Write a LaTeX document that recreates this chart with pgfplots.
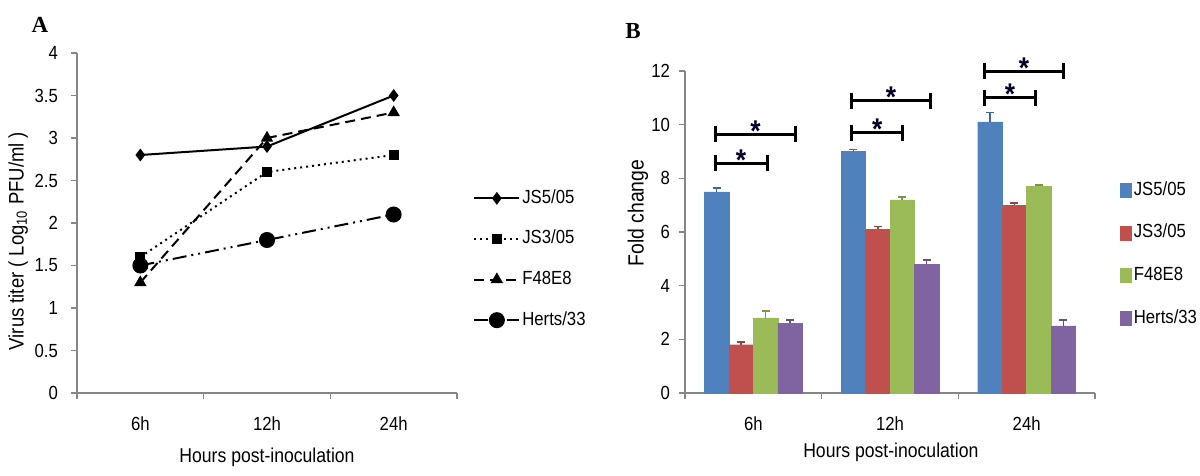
\documentclass[border=0pt]{standalone}
\usepackage{fontspec}
\setmainfont[FakeStretch=0.88]{Liberation Sans}
\newfontfamily\titlefont{Liberation Serif}
\usepackage{pgfplots}
\pgfplotsset{compat=1.18}
\definecolor{cBlue}{HTML}{4F81BD}
\definecolor{cRed}{HTML}{C0504D}
\definecolor{cGreen}{HTML}{9BBB59}
\definecolor{cPurple}{HTML}{8064A2}
\definecolor{axgray}{HTML}{868686}
\tikzset{signif/.style={font=\bfseries\fontsize{15}{15}\selectfont, text=black!85!blue, anchor=base, inner sep=0pt, yshift=-3.5pt}}
\pgfplotsset{
  common/.style={
    scale only axis,
    axis lines=left,
    axis line style={-, draw=axgray, line width=0.8pt},
    tick align=outside, major tick length=3pt, minor tick length=3pt,
    tick style={draw=axgray, line width=0.8pt},
    major x tick style={draw=none},
    xmin=-0.5, xmax=2.5,
    xtick={0,1,2}, xticklabels={6h,12h,24h},
    minor xtick={-0.5,0.5,1.5,2.5},
    /pgf/number format/assume math mode=true,
    tick label style={font=\fontsize{9.5}{11}\selectfont},
    xticklabel style={yshift=-5.5pt},
    label style={font=\fontsize{10}{12}\selectfont},
    clip=false,
  },
  mybar/.style={ybar, bar width=0.179, fill=#1, draw=#1, line width=0.2pt,
    legend image code/.code={\fill[fill=#1] (0pt,-3.5pt) rectangle (5.5pt,3.5pt);}},
  myerr/.style={forget plot, draw=none, mark=none,
    error bars/y dir=plus, error bars/y explicit,
    error bars/error bar style={line width=0.8pt, draw=#1!80!black, solid},
    error bars/error mark options={rotate=90, mark size=2pt, line width=0.8pt, draw=#1!80!black}},
  brk/.style={black, line width=1.5pt, mark=|, mark size=4pt, mark options={solid}, forget plot},
}
\begin{document}
\begin{tikzpicture}
\path[use as bounding box] (0,0) rectangle (600pt,-238pt);
\node[font=\titlefont\bfseries\fontsize{11.5}{12}\selectfont] at (20pt,-12.5pt) {A};
\node[font=\titlefont\bfseries\fontsize{11.5}{12}\selectfont] at (316.5pt,-15.5pt) {B};

\begin{axis}[common,
  at={(38.5pt,-196.5pt)}, anchor=south west, width=190pt, height=170pt,
  ymin=0, ymax=4,
  ytick={0,0.5,1,1.5,2,2.5,3,3.5,4},
  y tick label style={xshift=-3pt},
  xlabel={Hours post-inoculation},
  ylabel={Virus titer ( Log\textsubscript{10} PFU/ml )},
  xlabel style={at={(axis description cs:0.5,-0.188)}, anchor=center},
  ylabel style={at={(axis description cs:-0.155,0.447)}, anchor=center, font=\fontsize{10.5}{12}\selectfont},
  legend image code/.code={\draw[mark repeat=2,mark phase=2,#1] plot coordinates {(0pt,0pt)(11.25pt,0pt)(22.5pt,0pt)};},
  legend style={at={(axis description cs:1.042,0.606)}, anchor=north west, draw=none, fill=none,
    inner sep=0pt, row sep=9.3pt, font=\fontsize{9.5}{11}\selectfont,
    nodes={inner sep=1pt, text height=7pt, text depth=2pt}},
  legend cell align=left,
]
\addplot[black, line width=1pt, mark=diamond*, mark size=2.4pt, mark options={solid}]
  coordinates {(0,2.8) (1,2.9) (2,3.5)};
\addlegendentry{JS5/05}
\addplot[black, line width=1pt, dotted, mark=square*, mark size=2pt, mark options={solid}]
  coordinates {(0,1.6) (1,2.6) (2,2.8)};
\addlegendentry{JS3/05}
\addplot[black, line width=1pt, dash pattern=on 5pt off 3pt, mark=triangle*, mark size=2.6pt, mark options={solid}]
  coordinates {(0,1.3) (1,3.0) (2,3.3)};
\addlegendentry{F48E8}
\addplot[black, line width=1pt, dash pattern=on 7pt off 2.5pt on 1pt off 2.5pt on 1pt off 2.5pt, mark=*, mark size=3.5pt, mark options={solid}]
  coordinates {(0,1.5) (1,1.8) (2,2.1)};
\addlegendentry{Herts/33}
\end{axis}

\begin{axis}[common,
  at={(342.5pt,-196.5pt)}, anchor=south west, width=205pt, height=161pt,
  ymin=0, ymax=12,
  ytick={0,2,4,6,8,10,12},
  y tick label style={xshift=-1pt},
  xlabel={Hours post-inoculation},
  ylabel={Fold change},
  xlabel style={at={(axis description cs:0.502,-0.183)}, anchor=center},
  ylabel style={at={(axis description cs:-0.115,0.559)}, anchor=center, font=\fontsize{11}{12}\selectfont},
  legend style={at={(axis description cs:1.061,0.665)}, anchor=north west, draw=none, fill=none,
    inner sep=0pt, row sep=10.3pt, font=\fontsize{9.5}{11}\selectfont,
    nodes={inner sep=1pt, text height=7pt, text depth=2pt}},
  legend cell align=left,
]
\addplot[mybar=cBlue, bar shift=-0.2685] coordinates {(0,7.5) (1,9.0) (2,10.1)};
\addlegendentry{JS5/05}
\addplot[mybar=cRed, bar shift=-0.0895] coordinates {(0,1.8) (1,6.1) (2,7.0)};
\addlegendentry{JS3/05}
\addplot[mybar=cGreen, bar shift=0.0895] coordinates {(0,2.8) (1,7.2) (2,7.7)};
\addlegendentry{F48E8}
\addplot[mybar=cPurple, bar shift=0.2685] coordinates {(0,2.6) (1,4.8) (2,2.5)};
\addlegendentry{Herts/33}
\addplot[myerr=cBlue] coordinates {(-0.2685,7.5) +- (0,0.15) (0.7315,9.0) +- (0,0.08) (1.7315,10.1) +- (0,0.35)};
\addplot[myerr=cRed] coordinates {(-0.0895,1.8) +- (0,0.1) (0.9105,6.1) +- (0,0.1) (1.9105,7.0) +- (0,0.08)};
\addplot[myerr=cGreen] coordinates {(0.0895,2.8) +- (0,0.25) (1.0895,7.2) +- (0,0.1) (2.0895,7.7) +- (0,0.05)};
\addplot[myerr=cPurple] coordinates {(0.2685,2.6) +- (0,0.12) (1.2685,4.8) +- (0,0.15) (2.2685,2.5) +- (0,0.22)};
\addplot[brk] coordinates {(-0.28,8.57) (0.10,8.57)};
\addplot[brk] coordinates {(-0.28,9.65) (0.31,9.65)};
\addplot[brk] coordinates {(0.72,9.7) (1.093,9.7)};
\addplot[brk] coordinates {(0.72,10.9) (1.297,10.9)};
\addplot[brk] coordinates {(1.69,11.0) (2.066,11.0)};
\addplot[brk] coordinates {(1.69,12.0) (2.27,12.0)};
\node[signif] at (axis cs:-0.09,8.57) {*};
\node[signif] at (axis cs:0.015,9.65) {*};
\node[signif] at (axis cs:0.906,9.7) {*};
\node[signif] at (axis cs:1.008,10.9) {*};
\node[signif] at (axis cs:1.878,11.0) {*};
\node[signif] at (axis cs:1.98,12.0) {*};
\end{axis}
\end{tikzpicture}
\end{document}
